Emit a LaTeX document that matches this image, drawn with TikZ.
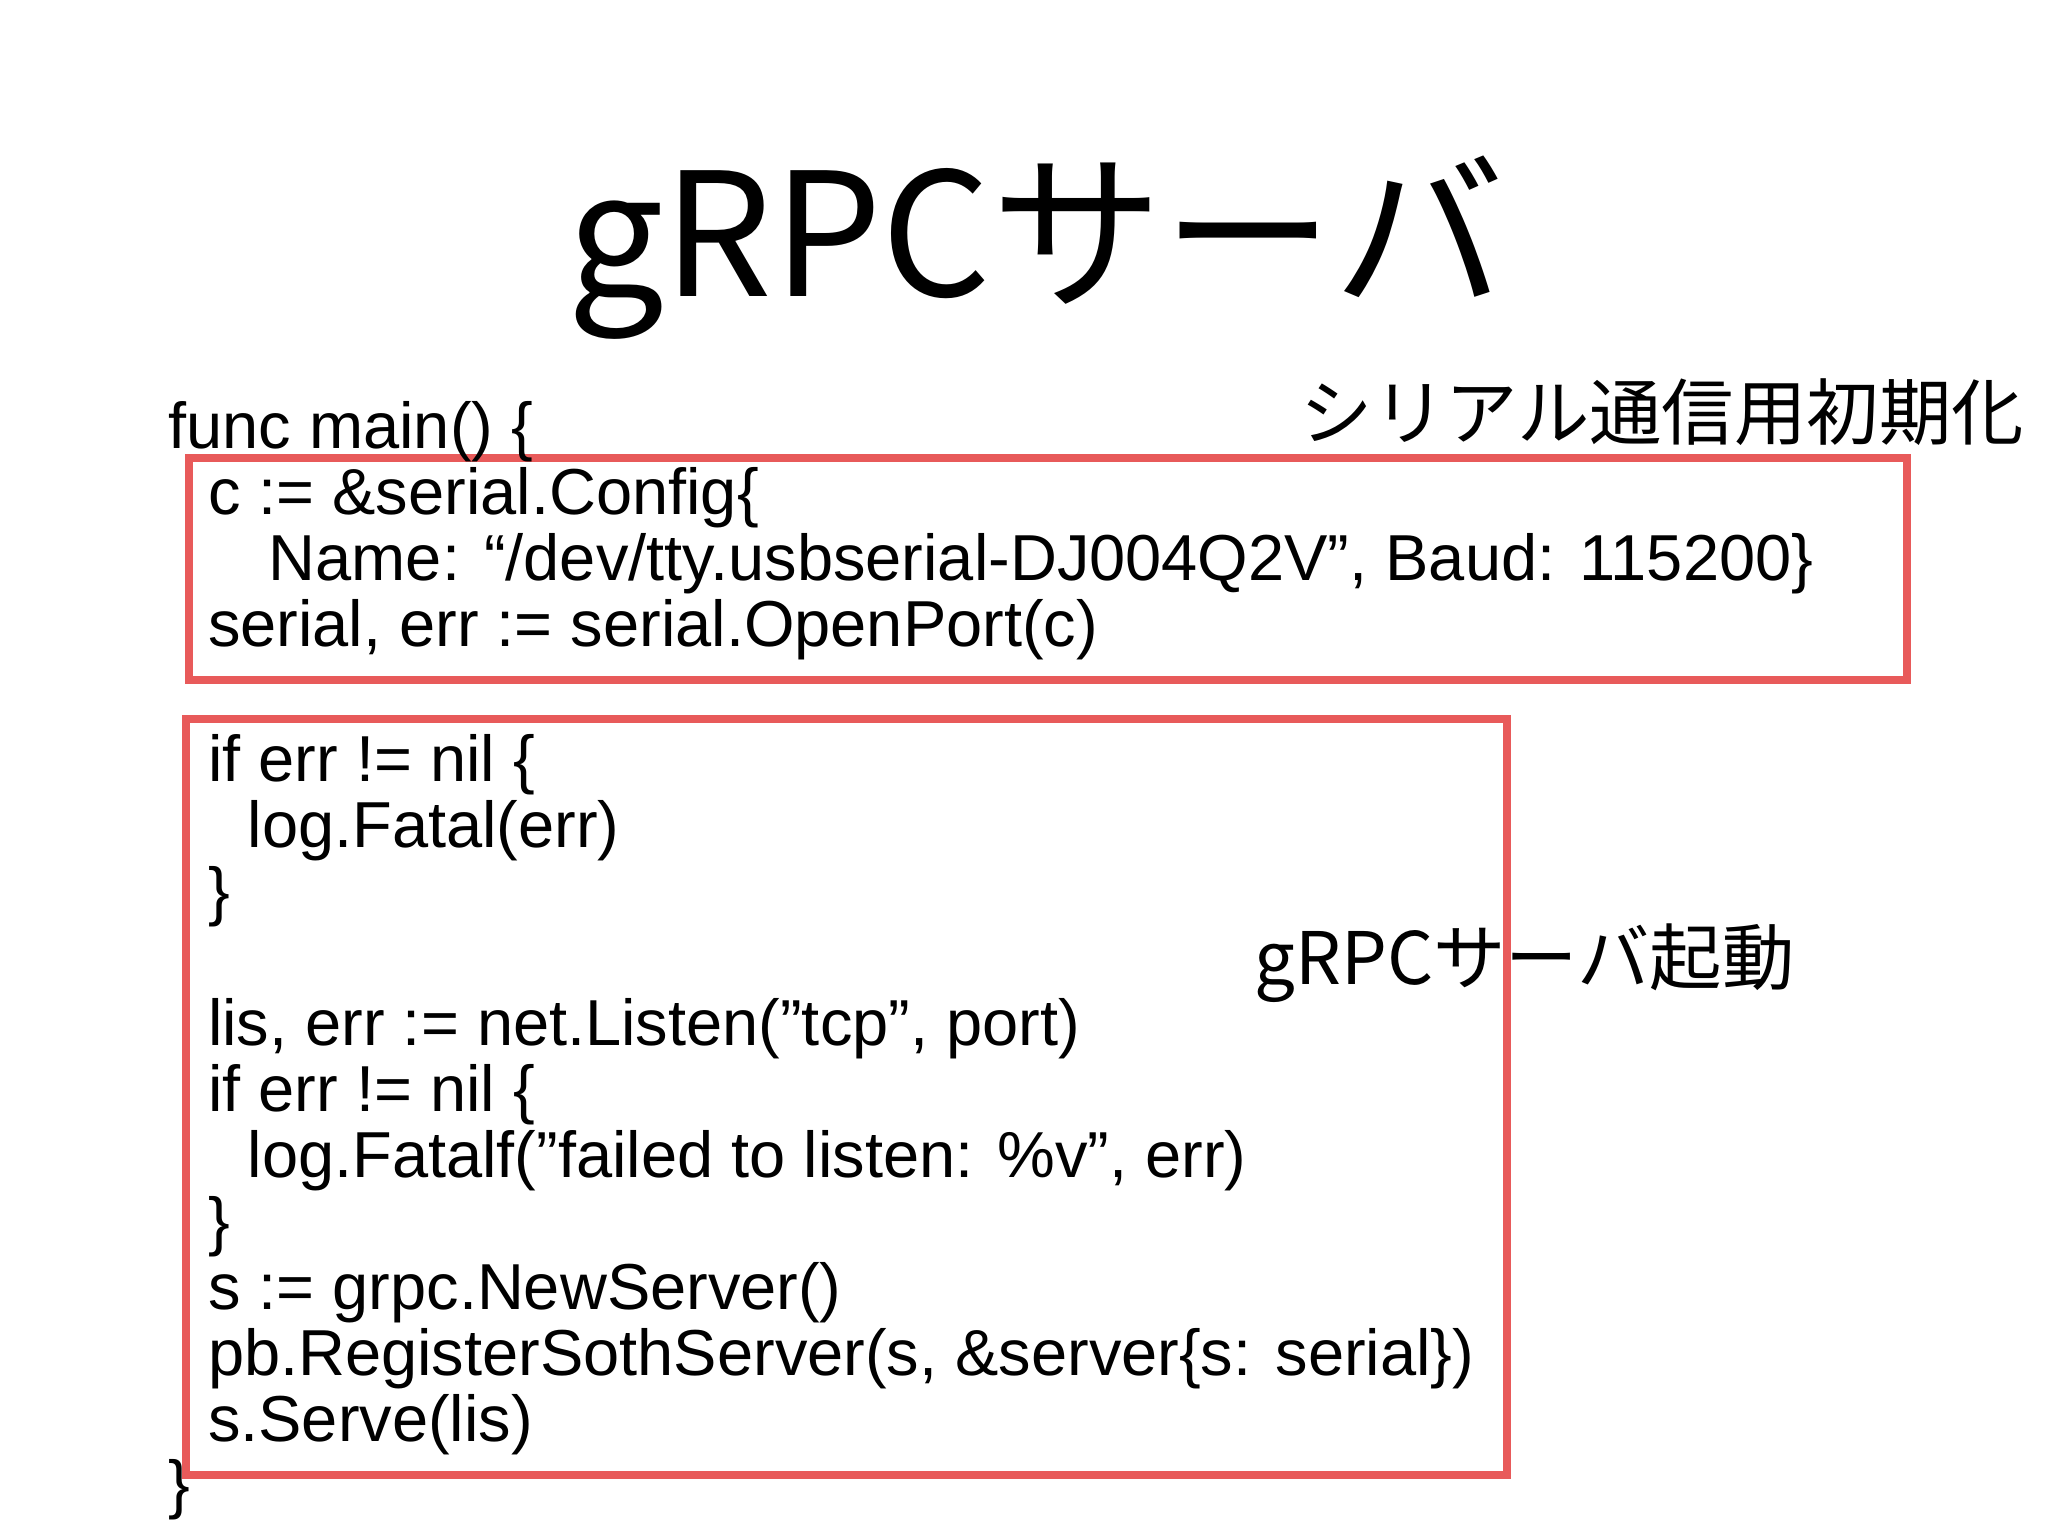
\documentclass[tikz,border=0pt]{standalone}
\usepackage{fontspec}
\setmainfont{Liberation Sans}
\newfontfamily\jp{Noto Sans CJK JP}
\definecolor{boxred}{HTML}{E85A5A}
\newcommand{\dq}{\symbol{34}}
\begin{document}
\begin{tikzpicture}[x=0.01cm,y=-0.01cm,
  code/.style={anchor=base west,inner sep=0pt,font=\fontsize{14pt}{16pt}\selectfont},
  lbl/.style={anchor=base west,inner sep=0pt,font=\jp\fontsize{15.6pt}{18pt}\selectfont},
  redbox/.style={draw=boxred,line width=0.06cm}]
\useasboundingbox (0,0) rectangle (1552,1164);
\node[anchor=base,inner sep=0pt,font=\jp\fontsize{37pt}{42pt}\selectfont] (title) at (785,225) {gRPCサーバ};
\draw[redbox] (143,347) rectangle (1445,515);
\draw[redbox] (141,545) rectangle (1142,1118);
\node[lbl] (l1) at (985,333) {シリアル通信用初期化};
\node[lbl] (l2) at (950,746) {gRPCサーバ起動};
\node[code] (c0) at (127,340) {func main() \{};
\node[code] (c1) at (157,390) {c := \&serial.Config\{};
\node[code] (c2) at (203,440) {Name: “/dev/tty.usbserial-DJ004Q2V”, Baud: 115200\}};
\node[code] (c3) at (157,490) {serial, err := serial.OpenPort(c)};
\node[code] (c4) at (157,592) {if err != nil \{};
\node[code] (c5) at (187,642) {log.Fatal(err)};
\node[code] (c6) at (157,692) {\}};
\node[code] (c7) at (157,792) {lis, err := net.Listen(\dq tcp\dq, port)};
\node[code] (c8) at (157,842) {if err != nil \{};
\node[code] (c9) at (187,892) {log.Fatalf(\dq failed to listen: \%v\dq, err)};
\node[code] (c10) at (157,942) {\}};
\node[code] (c11) at (157,992) {s := grpc.NewServer()};
\node[code] (c12) at (157,1042) {pb.RegisterSothServer(s, \&server\{s: serial\})};
\node[code] (c13) at (157,1092) {s.Serve(lis)};
\node[code] (c14) at (127,1142) {\}};
\end{tikzpicture}
\end{document}
